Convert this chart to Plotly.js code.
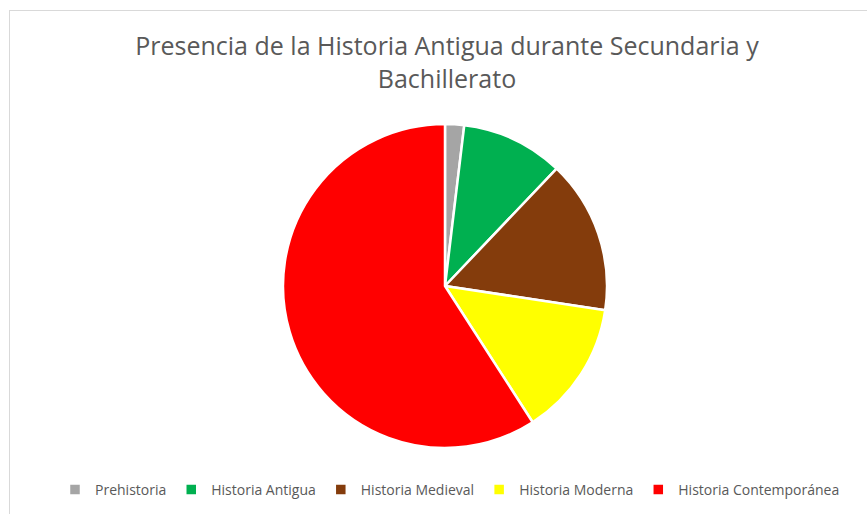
<!DOCTYPE html>
<html>
<head>
<meta charset="utf-8">
<script src="https://cdn.plot.ly/plotly-3.0.1.min.js"></script>
<style>
  html, body { margin: 0; padding: 0; width: 867px; height: 514px; overflow: hidden; background: #ffffff; }
  #frame { position: absolute; left: 9px; top: 10px; width: 900px; height: 600px; border: 1px solid #d9d9d9; }
  #chart { position: absolute; left: 0; top: 0; width: 867px; height: 514px; }
</style>
</head>
<body>
<div id="frame"></div>
<div id="chart"></div>
<script>
const categories = ["Prehistoria", "Historia Antigua", "Historia Medieval", "Historia Moderna", "Historia Contemporánea"];
const values = [1.9, 10.2, 15.3, 13.5, 59.1];
const colors = ["#a5a5a5", "#00b050", "#843c0c", "#ffff00", "#ff0000"];
const titleText = "Presencia de la Historia Antigua durante Secundaria y<br>Bachillerato";

const W = 867, H = 514;
const trace = {
  type: "pie",
  labels: categories,
  values: values,
  sort: false,
  direction: "clockwise",
  rotation: 0,
  textinfo: "none",
  hoverinfo: "label+percent",
  marker: { colors: colors, line: { color: "#ffffff", width: 2.5 } },
  domain: { x: [283 / W, 607 / W], y: [1 - 448 / H, 1 - 124 / H] }
};

const layout = {
  width: W, height: H,
  margin: { l: 0, r: 0, t: 0, b: 0 },
  paper_bgcolor: "rgba(0,0,0,0)",
  plot_bgcolor: "rgba(0,0,0,0)",
  font: { family: "Open Sans, sans-serif", color: "#595959" },
  title: {
    text: titleText,
    font: { family: "Open Sans, sans-serif", size: 25, color: "#595959" },
    x: 447 / W, xanchor: "center", xref: "paper",
    y: 1 - 55 / H, yanchor: "middle", yref: "paper"
  },
  showlegend: true,
  legend: {
    orientation: "h",
    x: 450 / W, xanchor: "center",
    y: 1 - 490 / H, yanchor: "middle",
    font: { family: "Open Sans, sans-serif", size: 14, color: "#595959" },
    itemwidth: 30,
    traceorder: "normal"
  }
};

Plotly.newPlot("chart", [trace], layout, { displayModeBar: false, staticPlot: true });
</script>
</body>
</html>
